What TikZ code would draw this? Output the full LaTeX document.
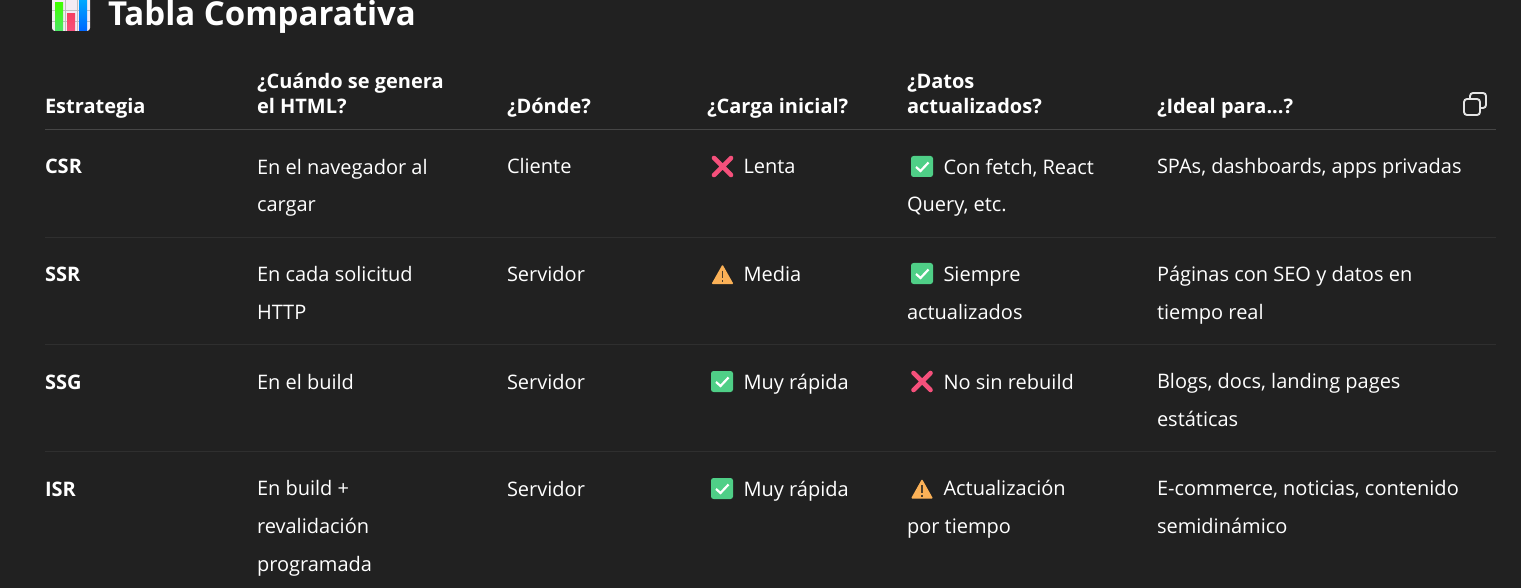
\documentclass[tikz,border=0pt]{standalone}
\usepackage{fontspec}
\setmainfont{Open Sans}
\definecolor{pagebg}{HTML}{212121}
\definecolor{headrule}{HTML}{464646}
\definecolor{rowrule}{HTML}{2F2F2F}
\definecolor{crosspink}{HTML}{F5507B}
\definecolor{checkgreen}{HTML}{4FCF87}
\definecolor{warnorange}{HTML}{FBB157}
\tikzset{
    x=1pt, y=-1pt,
    cell/.style={anchor=base west, align=left, inner sep=0pt, outer sep=0pt, text=white, font=\fontsize{20}{37.6}\selectfont},
    rowhead/.style={cell, font=\fontsize{20}{37.6}\selectfont\bfseries},
    headcell/.style={cell, font=\fontsize{20}{25}\selectfont\bfseries},
    titletext/.style={cell, font=\fontsize{33}{40}\selectfont\bfseries},
    pics/crossicon/.style={code={
        \draw[crosspink, line width=4.6pt, line cap=round] (-8.5,-8.5) -- (8.5,8.5) (-8.5,8.5) -- (8.5,-8.5);
    }},
    pics/checkicon/.style={code={
        \fill[checkgreen, rounded corners=2.5pt] (-11,-10.5) rectangle (11,10.5);
        \draw[white, line width=2.2pt] (-6,0.5) -- (-1.5,4.5) -- (6.5,-4);
    }},
    pics/warnicon/.style={code={
        \fill[warnorange, rounded corners=1pt] (0,-10) -- (11,9.5) -- (-11,9.5) -- cycle;
        \draw[pagebg!80!warnorange, line width=1.6pt] (0,-4) -- (0,3.5) (0,5.5) -- (0,7.5);
    }}
}
\newcommand{\iconskip}{\hspace*{36.5pt}}
\begin{document}
\begin{tikzpicture}
    \useasboundingbox (0,0) rectangle (1521,588);
    \clip (0,0) rectangle (1521,588);
    \fill[pagebg] (0,0) rectangle (1521,588);

    \fill[rounded corners=3pt, fill=black!10!violet!8!white] (52,-10) rectangle (90,31);
    \draw[black!25, line width=0.5pt] (52,10) -- (90,10) (52,21) -- (90,21) (65,0) -- (65,31) (77,0) -- (77,31);
    \shade[top color=green!75!yellow, bottom color=green!70!teal!70!white] (55,3) rectangle (63,31);
    \shade[top color=crosspink!80!red, bottom color=crosspink] (67,13.5) rectangle (75,31);
    \shade[top color=cyan!70!blue, bottom color=blue!60!cyan] (79,-5) rectangle (87,31);
    \node[titletext] (title) at (108,26) {Tabla Comparativa};

    \node[headcell] (hstrategy) at (45,114) {Estrategia};
    \node[headcell] (hwhen) at (257,114) {¿Cuándo se genera\\el HTML?};
    \node[headcell] (hwhere) at (507,114) {¿Dónde?};
    \node[headcell] (hload) at (707,114) {¿Carga inicial?};
    \node[headcell] (hdata) at (907,114) {¿Datos\\actualizados?};
    \node[headcell] (hideal) at (1157,114) {¿Ideal para...?};

    \draw[white!90!black, line width=1.9pt, rounded corners=3pt] (1470,98) -- (1470,93) -- (1486,93) -- (1486,108) -- (1481,108);
    \draw[white!90!black, line width=1.9pt, rounded corners=3pt] (1464,99) rectangle (1480,115);

    \draw[headrule] (45,129.5) -- (1496,129.5);
    \foreach \ruley in {237.5,344.5,451.5}
        \draw[rowrule] (45,\ruley) -- (1496,\ruley);

    \node[rowhead] (csr) at (45,174) {CSR};
    \node[cell] (csrwhen) at (257,212) {En el navegador al\\cargar};
    \node[cell] (csrwhere) at (507,174) {Cliente};
    \pic at (722.5,166.5) {crossicon};
    \node[cell] (csrload) at (707,174) {\iconskip Lenta};
    \pic at (922,166.5) {checkicon};
    \node[cell] (csrdata) at (907,212) {\iconskip Con fetch, React\\Query, etc.};
    \node[cell] (csrideal) at (1157,174) {SPAs, dashboards, apps privadas};

    \node[rowhead] (ssr) at (45,281) {SSR};
    \node[cell] (ssrwhen) at (257,319) {En cada solicitud\\HTTP};
    \node[cell] (ssrwhere) at (507,281) {Servidor};
    \pic at (722.5,274.5) {warnicon};
    \node[cell] (ssrload) at (707,281) {\iconskip Media};
    \pic at (922,273.5) {checkicon};
    \node[cell] (ssrdata) at (907,319) {\iconskip Siempre\\actualizados};
    \node[cell] (ssrideal) at (1157,319) {Páginas con SEO y datos en\\tiempo real};

    \node[rowhead] (ssg) at (45,389) {SSG};
    \node[cell] (ssgwhen) at (257,389) {En el build};
    \node[cell] (ssgwhere) at (507,389) {Servidor};
    \pic at (722,381.5) {checkicon};
    \node[cell] (ssgload) at (707,389) {\iconskip Muy rápida};
    \pic at (922,381.5) {crossicon};
    \node[cell] (ssgdata) at (907,389) {\iconskip No sin rebuild};
    \node[cell] (ssgideal) at (1157,426) {Blogs, docs, landing pages\\estáticas};

    \node[rowhead] (isr) at (45,496) {ISR};
    \node[cell] (isrwhen) at (257,571) {En build +\\revalidación\\programada};
    \node[cell] (isrwhere) at (507,496) {Servidor};
    \pic at (722,488.5) {checkicon};
    \node[cell] (isrload) at (707,496) {\iconskip Muy rápida};
    \pic at (922,489) {warnicon};
    \node[cell] (isrdata) at (907,533) {\iconskip Actualización\\por tiempo};
    \node[cell] (isrideal) at (1157,533) {E-commerce, noticias, contenido\\semidinámico};
\end{tikzpicture}
\end{document}
